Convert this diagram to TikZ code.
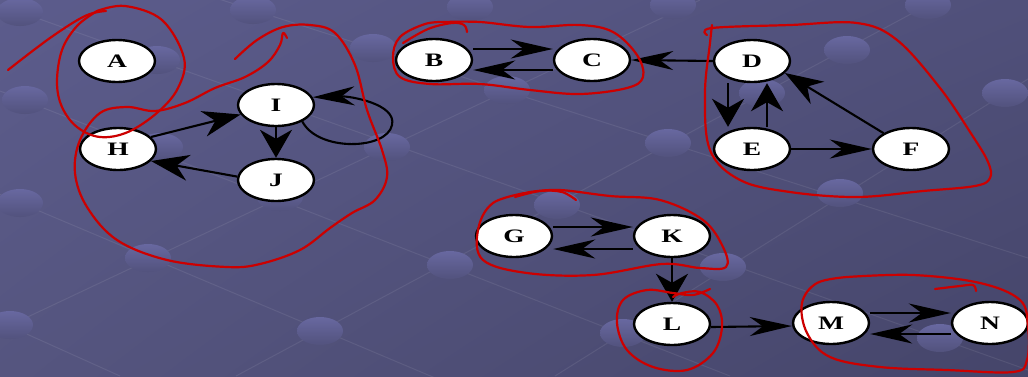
\documentclass[tikz,border=0pt]{standalone}
\usepackage{fontspec}
\newfontfamily\graphfont[FakeStretch=1.45]{Liberation Serif}
\usetikzlibrary{shapes.geometric,arrows.meta,shadings}
\definecolor{bgul}{HTML}{5C5C8C}
\definecolor{bgur}{HTML}{50507A}
\definecolor{bgll}{HTML}{55557F}
\definecolor{bglr}{HTML}{45456A}
\definecolor{sphtop}{HTML}{6868A0}
\definecolor{sphbot}{HTML}{52527D}
\definecolor{sccred}{HTML}{CC0000}
\begin{document}
\begin{tikzpicture}[x=1pt,y=-1pt]
\tikzstyle{vertex}=[ellipse,draw=black,fill=white,line width=2.4pt,minimum width=76pt,minimum height=42pt,inner sep=0pt,font=\graphfont\bfseries\fontsize{19pt}{19pt}\selectfont]
\tikzstyle{edge}=[black,line width=2.1pt]
\tikzstyle{hv}=[edge,-{Stealth[length=42pt,width=19pt,inset=13pt]}]
\tikzstyle{vv}=[edge,-{Stealth[length=28pt,width=32pt,inset=9pt]}]
\tikzstyle{dv}=[edge,-{Stealth[length=38pt,width=26pt,inset=12pt]}]
\tikzstyle{scc}=[draw=sccred,line width=2.2pt,line cap=round,line join=round]
\tikzstyle{grid}=[white,opacity=0.08,line width=1pt]
\useasboundingbox (0,0) rectangle (1028,376);
\shade[upper left=bgul,upper right=bgur,lower left=bgll,lower right=bglr] (0,0) rectangle (1028,376);
\draw[grid] (236,376) -- (937,0);
\draw[grid] (555,376) -- (1028,79);
\draw[grid] (0,330) -- (700,0);
\draw[grid] (-20,186) -- (440,380);
\draw[grid] (0,322) -- (120,376);
\draw[grid] (0,91) -- (730,376);
\draw[grid] (0,5) -- (1028,370);
\draw[grid] (200,-7) -- (1028,258);
\foreach \sx/\sy in {20/12,253/10,470/7,673/5,928/5,157/60,373/48,847/50,25/100,507/90,762/93,1005/93,160/147,387/147,668/143,20/203,280/197,557/205,840/193,148/258,450/265,723/267,10/325,320/331,623/333,940/338}
  \shade[top color=sphtop,bottom color=sphbot] (\sx,\sy) ellipse [x radius=23pt,y radius=14pt];
\node[vertex] (A) at (117,61) {A};
\node[vertex] (B) at (434,60) {B};
\node[vertex] (C) at (592,60) {C};
\node[vertex] (D) at (752,61) {D};
\node[vertex] (E) at (752,149) {E};
\node[vertex] (F) at (911,149) {F};
\node[vertex] (H) at (118,149) {H};
\node[vertex] (I) at (276,105) {I};
\node[vertex] (J) at (276,180) {J};
\node[vertex] (G) at (514,236) {G};
\node[vertex] (K) at (672,236) {K};
\node[vertex] (L) at (672,324) {L};
\node[vertex] (M) at (831,323) {M};
\node[vertex] (N) at (990,323) {N};
\draw[hv] ([yshift=11pt]B.east) -- ([yshift=11pt]C.west);
\draw[hv] ([yshift=-10pt]C.west) -- ([yshift=-10pt]B.east);
\draw[hv] (D.west) -- (C.east);
\draw[vv] ([xshift=-24pt]D.south) -- ([xshift=-24pt]E.north);
\draw[vv] ([xshift=15pt]E.north) -- ([xshift=15pt]D.south);
\draw[hv] (E.east) -- (F.west);
\draw[dv] (F.150) -- (D.-20);
\draw[dv] (H.20) -- (I.195);
\draw[dv] (J.175) -- (H.-20);
\draw[vv] (I.south) -- (J.north);
\draw[hv] (I.-32) .. controls (318,152) and (387,150) .. (392,125) .. controls (397,104) and (350,96) .. (I.12);
\draw[hv] ([yshift=9pt]G.east) -- ([yshift=9pt]K.west);
\draw[hv] ([yshift=-13pt]K.west) -- ([yshift=-13pt]G.east);
\draw[vv] (K.south) -- (L.north);
\draw[hv] ([yshift=-3pt]L.east) -- ([yshift=-3pt]M.west);
\draw[hv] ([yshift=10pt]M.east) -- ([yshift=10pt]N.west);
\draw[hv] ([yshift=-11pt]N.west) -- ([yshift=-11pt]M.east);
\draw[scc] plot[smooth,tension=0.6] coordinates {(8,70) (50,38) (85,16) (106,11)};
\draw[scc] plot[smooth,tension=0.6] coordinates {(97,11) (125,6) (162,20) (184,58) (178,88) (158,112) (128,132) (100,137) (77,127) (62,107) (57,82) (62,50) (77,26) (97,11)};
\draw[scc] plot[smooth,tension=0.6] coordinates {(235,59) (257,40) (283,27) (310,25) (335,33) (355,65) (367,110) (382,150) (387,177) (375,200) (352,213) (330,228) (300,250) (260,264) (227,267) (167,260) (117,240) (87,207) (75,173) (80,140) (100,113) (127,107) (155,111) (185,103) (215,88) (245,77) (268,62) (280,45) (283,33) (287,38)};
\draw[scc] plot[smooth,tension=0.6] coordinates {(403,43) (428,29) (452,23) (464,25) (467,32)};
\draw[scc] plot[smooth,tension=0.6] coordinates {(445,22) (480,22) (530,27) (580,25) (613,32) (637,55) (643,77) (627,88) (580,94) (530,90) (480,84) (430,84) (400,77) (393,57) (400,37) (425,24) (445,22)};
\draw[scc] plot[smooth,tension=0.6] coordinates {(707,35) (712,28) (790,25) (857,23) (897,40) (940,88) (972,135) (988,162) (990,178) (975,186) (923,191) (857,197) (790,192) (740,180) (710,150) (705,93) (710,43) (712,25)};
\draw[scc] plot[smooth,tension=0.6] coordinates {(515,197) (540,191) (562,192) (576,200)};
\draw[scc] plot[smooth,tension=0.6] coordinates {(530,192) (560,190) (610,196) (660,200) (703,220) (723,247) (726,267) (700,268) (662,264) (593,275) (527,273) (483,260) (478,230) (493,203) (530,192)};
\draw[scc] plot[smooth,tension=0.6] coordinates {(710,289) (693,295) (673,293) (647,290) (623,300) (617,323) (627,350) (653,367) (687,370) (713,353) (722,327) (717,305) (700,292) (682,293) (673,297)};
\draw[scc] plot[smooth,tension=0.6] coordinates {(935,289) (960,286) (973,285) (976,291)};
\draw[scc] plot[smooth,tension=0.6] coordinates {(847,277) (913,275) (980,283) (1020,300) (1028,327) (1027,360) (1013,372) (947,370) (880,367) (830,357) (807,333) (802,303) (817,283) (847,277)};
\end{tikzpicture}
\end{document}
